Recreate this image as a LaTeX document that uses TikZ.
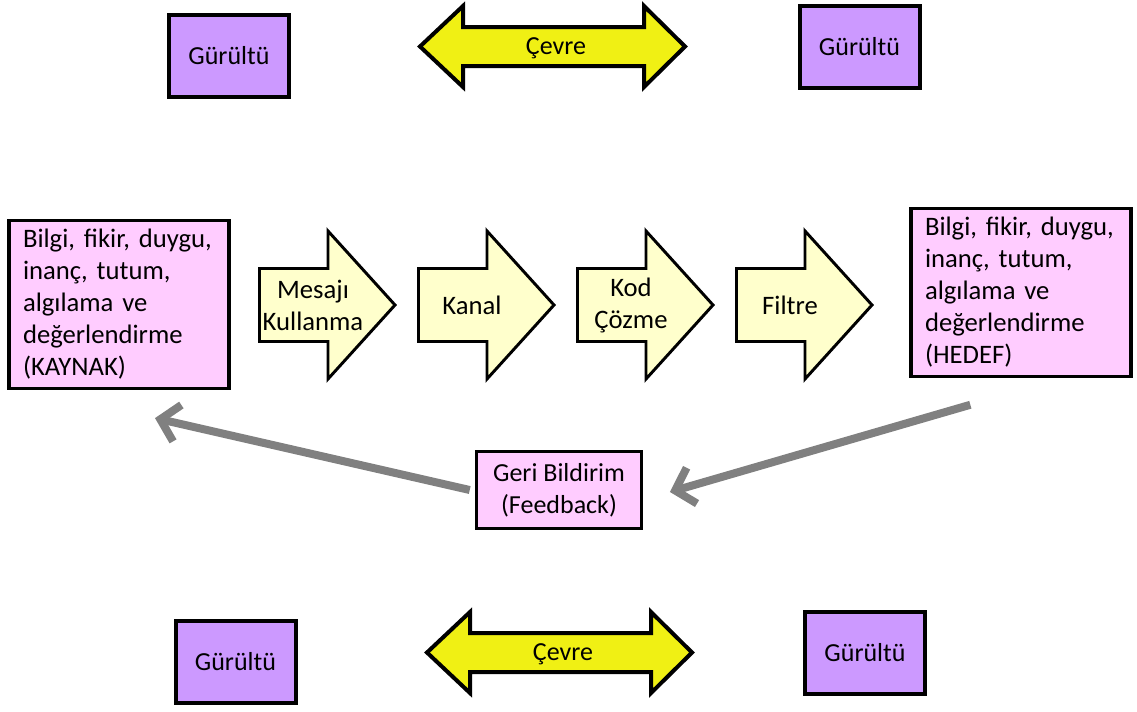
\documentclass[tikz,border=0pt]{standalone}
\usepackage{fontspec}
\setmainfont{Carlito}
\usetikzlibrary{arrows.meta}
\definecolor{noiseC}{RGB}{204,153,255}
\definecolor{boxC}{RGB}{255,204,255}
\definecolor{flowC}{RGB}{255,255,204}
\definecolor{envC}{RGB}{240,240,20}
\definecolor{fbC}{RGB}{128,128,128}
\begin{document}
\begin{tikzpicture}[x=0.75pt,y=-0.75pt,
  txt/.style={font=\fontsize{19.5}{24}\selectfont, text=black},
  bigtxt/.style={font=\fontsize{20}{24}\selectfont, text=black},
  noisebox/.style={txt, draw=black, line width=3pt, fill=noiseC, minimum width=90pt, minimum height=61.5pt, inner sep=0pt},
  bigbox/.style={bigtxt, draw=black, line width=2.4pt, fill=boxC, minimum width=165pt, minimum height=126pt, align=left, text width=144pt, inner sep=0pt},
  fbbox/.style={txt, draw=black, line width=2.4pt, fill=boxC, minimum width=124pt, minimum height=58pt, align=center, inner sep=0pt},
  flowshape/.style={draw=black, line width=2.2pt, fill=flowC, line join=miter},
  envshape/.style={draw=black, line width=3pt, fill=envC, line join=miter},
  flowtext/.style={bigtxt, align=center, inner sep=0pt},
  fbarrow/.style={draw=fbC, line width=6pt, -{Straight Barb[length=13pt,width=28pt]}}
]
\useasboundingbox (0,0) rectangle (1137,711);

% top and bottom environment arrows
\foreach \sx/\sy/\nm in {0/0/envTop, 7/606/envBot} {
  \begin{scope}[shift={(\sx,\sy)}]
    \draw[envshape] (420,46.5) -- (463,6) -- (463,27) -- (644,27) -- (644,6) -- (685,46.5)
      -- (644,87) -- (644,66) -- (463,66) -- (463,87) -- cycle;
    \node[txt, inner sep=0pt] (\nm) at (556,48.5) {Çevre};
  \end{scope}
}

% noise boxes
\node[noisebox] (noiseTL) at (229,56) {Gürültü};
\node[noisebox] (noiseTR) at (859.5,46.5) {Gürültü};
\node[noisebox] (noiseBL) at (235.5,661.5) {Gürültü};
\node[noisebox] (noiseBR) at (865,652.5) {Gürültü};

% source and target
\node[bigbox] (kaynak) at (119,304.5) {Bilgi, fikir, duygu,\\inanç, tutum,\\algılama ve\\değerlendirme\\(KAYNAK)};
\node[bigbox] (hedef) at (1021,292.5) {Bilgi, fikir, duygu,\\inanç, tutum,\\algılama ve\\değerlendirme\\(HEDEF)};

% flow arrows
\foreach \x/\n/\t in {258/fA/{Mesajı\\Kullanma}, 417/fB/{Kanal}, 576/fC/{Kod\\Çözme}, 735/fD/{Filtre}} {
  \draw[flowshape] (\x+1.5,268.5) -- (\x+70,268.5) -- (\x+70,231) -- (\x+137,305)
    -- (\x+70,379) -- (\x+70,341.5) -- (\x+1.5,341.5) -- cycle;
  \node[flowtext] (\n) at (\x+55,305) {\t};
}

% feedback
\node[fbbox] (fb) at (559,490) {Geri Bildirim\\(Feedback)};
\coordinate (kaynakIn) at ([shift={(27pt,-21pt)}]kaynak.south);
\coordinate (hedefOut) at ([shift={(-38pt,-20pt)}]hedef.south);
\draw[fbarrow] ([xshift=-3.75pt]fb.west) -- (kaynakIn);
\draw[fbarrow] (hedefOut) -- ([shift={(20pt,-1.5pt)}]fb.east);
\end{tikzpicture}
\end{document}
